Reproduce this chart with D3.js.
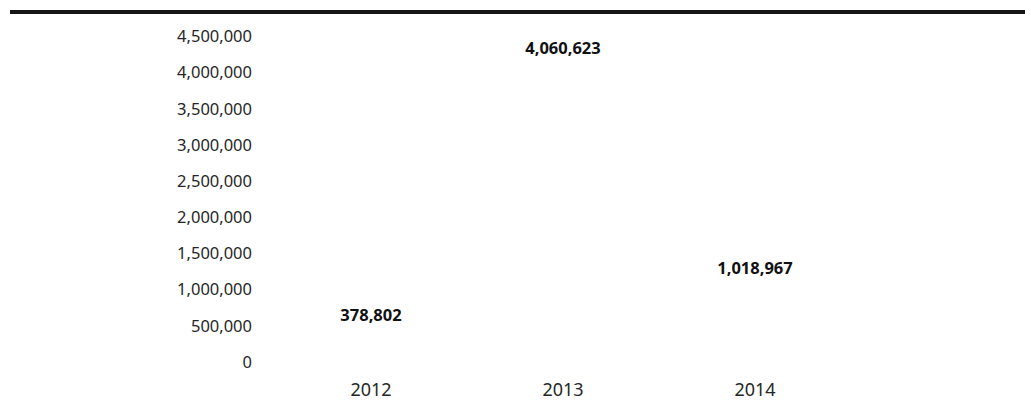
<!DOCTYPE html>
<html>
<head>
<meta charset="utf-8">
<script src="https://cdn.jsdelivr.net/npm/d3@7"></script>
<style>
  body { margin: 0; background: #fff; }
  svg { display: block; font-family: "Noto Sans", sans-serif; }
</style>
</head>
<body>
<svg width="1031" height="405"></svg>
<script>
// chart data
var years = ["2012", "2013", "2014"];
var values = [378802, 4060623, 1018967];
var yTicks = [0, 500000, 1000000, 1500000, 2000000, 2500000, 3000000, 3500000, 4000000, 4500000];

var width = 1031, height = 405;
var svg = d3.select("svg");

// top rule
svg.append("line")
  .attr("x1", 10).attr("x2", 1025)
  .attr("y1", 12).attr("y2", 12)
  .style("stroke", "#151515")
  .style("stroke-width", 4);

var x = d3.scaleBand()
  .domain(years)
  .range([275, 851])
  .padding(0);

var y = d3.scaleLinear()
  .domain([0, 4500000])
  .range([362, 36.5]);

var fmt = d3.format(",");

// y axis - labels only
var yAxis = svg.append("g")
  .attr("transform", "translate(252,0)")
  .call(d3.axisLeft(y).tickValues(yTicks).tickFormat(fmt).tickSize(0).tickPadding(0));
yAxis.select(".domain").remove();
yAxis.selectAll("text")
  .style("font-size", "16.5px")
  .style("font-family", "Noto Sans")
  .style("fill", "#262626");

// x axis - labels only
var xAxis = svg.append("g")
  .attr("transform", "translate(0,362)")
  .call(d3.axisBottom(x).tickSize(0).tickPadding(21));
xAxis.select(".domain").remove();
xAxis.selectAll("text")
  .style("font-size", "18px")
  .style("font-family", "Noto Sans")
  .style("fill", "#262626");

// bars (white, invisible in the original)
var barW = 60;
svg.append("g").selectAll("rect")
  .data(values)
  .join("rect")
  .attr("x", (d, i) => x(years[i]) + x.bandwidth() / 2 - barW / 2)
  .attr("width", barW)
  .attr("y", d => y(d))
  .attr("height", d => y(0) - y(d))
  .style("fill", "#fff");

// value labels
svg.append("g").selectAll("text")
  .data(values)
  .join("text")
  .attr("x", (d, i) => x(years[i]) + x.bandwidth() / 2)
  .attr("y", d => y(d) - 14)
  .attr("text-anchor", "middle")
  .style("font-size", "16.5px")
  .style("font-weight", "bold")
  .style("fill", "#111")
  .text(d => fmt(d));
</script>
</body>
</html>
